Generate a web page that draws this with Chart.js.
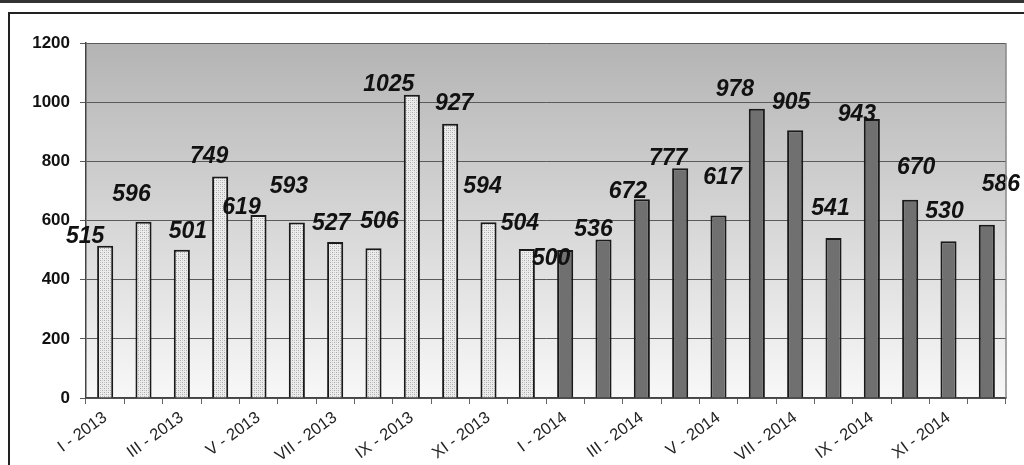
<!DOCTYPE html>
<html>
<head>
<meta charset="utf-8">
<script src="https://cdn.jsdelivr.net/npm/chart.js@4.4.1/dist/chart.umd.min.js"></script>
<style>
  html, body { margin: 0; padding: 0; background: #fff; overflow: hidden; }
  #topline { position: absolute; left: 0; top: 0; width: 1024px; height: 3px; background: #333; }
  #frame { position: absolute; left: 8px; top: 12px; width: 1100px; height: 600px; border: 2px solid #222; }
  #wrap { position: absolute; left: 0; top: 0; width: 1024px; height: 465px; }
</style>
</head>
<body>
<div id="topline"></div>
<div id="frame"></div>
<div id="wrap"><canvas id="myChart"></canvas></div>
<script>
const CATEGORIES = [
  'I - 2013', 'II - 2013', 'III - 2013', 'IV - 2013', 'V - 2013', 'VI - 2013',
  'VII - 2013', 'VIII - 2013', 'IX - 2013', 'X - 2013', 'XI - 2013', 'XII - 2013',
  'I - 2014', 'II - 2014', 'III - 2014', 'IV - 2014', 'V - 2014', 'VI - 2014',
  'VII - 2014', 'VIII - 2014', 'IX - 2014', 'X - 2014', 'XI - 2014', 'XII - 2014'
];
const VALUES_2013 = [515, 596, 501, 749, 619, 593, 527, 506, 1025, 927, 594, 504];
const VALUES_2014 = [500, 536, 672, 777, 617, 978, 905, 541, 943, 670, 530, 586];
const Y_TICKS = [0, 200, 400, 600, 800, 1000, 1200];

// hand-placed value labels, nudged from the bar top (px)
const LABEL_DX = [-20, -12, 6, -11, -17, -8, -4, 6, -23, 4, -6, -7,
                  -14, -10, -14, -12, 4, -22, -4, -3, -15, 6, -4, 14];
const LABEL_DY = [-9, -27, -18, -20, -7, -36, -18, -27, -10, -20, -36, -25,
                  9, -10, -8, -9, -38, -19, -28, -29, -4, -32, -30, -40];

const ALL_VALUES = VALUES_2013.concat(VALUES_2014);

function dotPattern() {
  let c = document.createElement('canvas');
  c.width = 4; c.height = 4;
  let g = c.getContext('2d');
  g.fillStyle = '#ececec';
  g.fillRect(0, 0, 4, 4);
  g.fillStyle = '#a9a9a9';
  g.fillRect(0, 0, 1, 1);
  g.fillRect(2, 2, 1, 1);
  g.fillStyle = '#c8c8c8';
  g.fillRect(2, 0, 1, 1);
  g.fillRect(0, 2, 1, 1);
  return g.createPattern(c, 'repeat');
}
const PATTERN = dotPattern();

const plotBackground = {
  id: 'plotBackground',
  beforeDraw(chart) {
    const { ctx, chartArea: a } = chart;
    let grad = ctx.createLinearGradient(0, a.top, 0, a.bottom);
    grad.addColorStop(0, '#b4b4b4');
    grad.addColorStop(1, '#f8f8f8');
    ctx.save();
    ctx.fillStyle = grad;
    ctx.fillRect(a.left, a.top, a.right - a.left, a.bottom - a.top);
    ctx.restore();
  },
  afterDraw(chart) {
    const { ctx, chartArea: a } = chart;
    ctx.save();
    ctx.strokeStyle = '#888';
    ctx.lineWidth = 1.5;
    ctx.beginPath();
    ctx.moveTo(a.right, a.top);
    ctx.lineTo(a.right, a.bottom);
    ctx.stroke();
    ctx.restore();
  }
};

const valueLabels = {
  id: 'valueLabels',
  afterDatasetsDraw(chart) {
    const ctx = chart.ctx;
    const meta = chart.getDatasetMeta(0);
    ctx.save();
    ctx.font = 'italic bold 23px "Liberation Sans", Arial, sans-serif';
    ctx.fillStyle = '#111';
    ctx.textAlign = 'center';
    ctx.textBaseline = 'middle';
    meta.data.forEach((bar, i) => {
      ctx.fillText(String(ALL_VALUES[i]), bar.x + LABEL_DX[i], bar.y + LABEL_DY[i]);
    });
    ctx.restore();
  }
};

let ctx = document.querySelector('#myChart').getContext('2d');
let myChart = new Chart(ctx, {
  type: 'bar',
  data: {
    labels: CATEGORIES,
    datasets: [{
      data: ALL_VALUES,
      backgroundColor: (c) => c.dataIndex < VALUES_2013.length ? PATTERN : '#707070',
      borderColor: '#1a1a1a',
      borderWidth: 2,
      borderSkipped: 'bottom',
      barPercentage: 0.42,
      categoryPercentage: 1.0
    }]
  },
  options: {
    responsive: true,
    maintainAspectRatio: false,
    animation: false,
    layout: { padding: { left: 0, top: 43, right: 18, bottom: 0 } },
    plugins: {
      legend: { display: false },
      tooltip: { enabled: false }
    },
    scales: {
      x: {
        offset: true,
        grid: {
          offset: true,
          drawOnChartArea: false,
          drawTicks: true,
          tickLength: 6,
          color: '#666'
        },
        border: { display: true, color: '#444', width: 1.5 },
        ticks: {
          autoSkip: false,
          minRotation: 36,
          maxRotation: 36,
          padding: 4,
          color: '#222',
          font: { family: '"Liberation Sans", Arial, sans-serif', size: 16.5 },
          callback: (v, i) => i % 2 === 0 ? CATEGORIES[i] : ''
        },
        afterFit: (scale) => { scale.height = 67; }
      },
      y: {
        min: Y_TICKS[0],
        max: Y_TICKS[Y_TICKS.length - 1],
        grid: { color: '#5a5a5a', lineWidth: 1, tickLength: 6 },
        border: { display: true, color: '#444', width: 1.5 },
        ticks: {
          stepSize: Y_TICKS[1] - Y_TICKS[0],
          padding: 10,
          color: '#111',
          font: { family: '"Liberation Sans", Arial, sans-serif', size: 17, weight: 'bold' },
          callback: (v) => String(v)
        },
        afterFit: (scale) => { scale.width = 86; }
      }
    }
  },
  plugins: [plotBackground, valueLabels]
});
</script>
</body>
</html>
